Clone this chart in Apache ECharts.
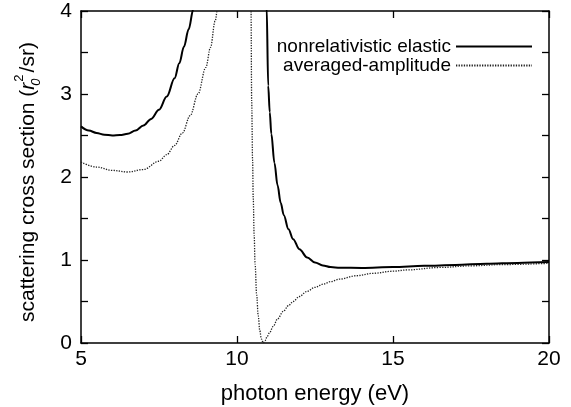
<!DOCTYPE html>
<html>
<head>
<meta charset="utf-8">
<script src="https://cdn.jsdelivr.net/npm/echarts@6/dist/echarts.min.js"></script>
<style>html,body{margin:0;padding:0;background:#fff;}#c{width:571px;height:407px;}</style>
</head>
<body>
<div id="c"></div>
<script>
// Data
var seriesNames = ['nonrelativistic elastic', 'averaged-amplitude'];
var xTicks = [5, 10, 15, 20];
var yTickLabels = [0, 1, 2, 3, 4];

// nonrelativistic elastic (solid); null splits the two branches around the resonance
var elasticX = [5.0, 5.25, 5.5, 5.75, 6.0, 6.25, 6.5, 6.75, 7.0, 7.25, 7.5, 7.75, 8.0, 8.15, 8.3, 8.45, 8.6, 8.75, 8.9, 9.1, null,
  10.9, 10.95, 11.0, 11.05, 11.1, 11.2, 11.3, 11.4, 11.5, 11.65, 11.8, 12.0, 12.25, 12.5, 12.75, 13.0, 13.3, 14.0, 15.0, 16.0, 17.0, 18.0, 19.0, 20.0];
var elasticY = [2.61, 2.56, 2.53, 2.51, 2.50, 2.505, 2.52, 2.56, 2.62, 2.70, 2.81, 2.97, 3.19, 3.37, 3.57, 3.78, 4.02, 4.3, 4.65, 5.3, null,
  6.0, 4.05, 3.1, 2.78, 2.52, 2.17, 1.90, 1.69, 1.54, 1.37, 1.25, 1.13, 1.03, 0.97, 0.935, 0.915, 0.907, 0.905, 0.915, 0.93, 0.94, 0.955, 0.965, 0.975];

// averaged-amplitude (dotted)
var averagedX = [5.0, 5.5, 6.0, 6.5, 7.0, 7.5, 7.75, 8.0, 8.25, 8.5, 8.75, 9.0, 9.15, 9.3, 9.4, 9.55, null,
  10.38, 10.45, 10.47, 10.5, 10.52, 10.55, 10.58, 10.63, 10.68, 10.73, 10.78, 10.84, 10.9, 10.97, 11.05, 11.16, 11.3, 11.48, 11.65, 11.8, 12.0, 12.23, 12.5, 12.77, 13.0, 13.3, 13.8, 14.37, 15.0, 15.44, 16.5, 17.5, 18.5, 20.0];
var averagedY = [2.18, 2.12, 2.08, 2.06, 2.09, 2.19, 2.27, 2.38, 2.53, 2.74, 3.0, 3.32, 3.56, 3.88, 4.1, 4.6, null,
  6.0, 4.0, 2.92, 2.2, 1.75, 1.3, 0.95, 0.58, 0.33, 0.15, 0.05, 0.0, 0.03, 0.08, 0.13, 0.20, 0.29, 0.38, 0.45, 0.50, 0.56, 0.62, 0.67, 0.71, 0.74, 0.77, 0.81, 0.84, 0.865, 0.88, 0.91, 0.93, 0.945, 0.96];

function pairs(xs, ys) {
  var out = [];
  for (var i = 0; i < xs.length; i++) {
    out.push(xs[i] === null ? [null, null] : [xs[i], ys[i]]);
  }
  return out;
}

var FONT = '"Liberation Sans", Arial, Helvetica, sans-serif';
var chart = echarts.init(document.getElementById('c'), null, {renderer: 'canvas'});

function tickStyle() { return {show: true, inside: true, length: 7, lineStyle: {color: '#000', width: 1.3}}; }
function axisLineStyle() { return {show: true, onZero: false, lineStyle: {color: '#000', width: 1.5}}; }

chart.setOption({
  animation: false,
  backgroundColor: '#fff',
  grid: {left: 81, right: 22, top: 11, bottom: 64, outerBoundsMode: 'none', containLabel: false},
  legend: {
    orient: 'vertical',
    align: 'right',
    right: 33,
    top: 32,
    padding: 5,
    itemWidth: 76,
    itemHeight: 14,
    itemGap: 0,
    itemStyle: {color: 'rgba(0,0,0,0)', borderWidth: 0, opacity: 0},
    textStyle: {fontFamily: FONT, fontSize: 19, lineHeight: 18, color: '#000'},
    data: seriesNames
  },
  xAxis: [{
    type: 'value', min: 5, max: 20, interval: 5, position: 'bottom',
    axisLine: axisLineStyle(), axisTick: tickStyle(), splitLine: {show: false},
    axisLabel: {fontFamily: FONT, fontSize: 21, color: '#000', margin: 6,
      formatter: function (v) { return xTicks.indexOf(v) >= 0 ? String(v) : ''; }},
    name: 'photon energy (eV)', nameLocation: 'middle', nameGap: 40,
    nameTextStyle: {fontFamily: FONT, fontSize: 22, color: '#000'}
  }, {
    type: 'value', min: 5, max: 20, interval: 5, position: 'top',
    axisLine: axisLineStyle(), axisTick: tickStyle(), splitLine: {show: false}, axisLabel: {show: false}
  }],
  yAxis: [{
    type: 'value', min: 0, max: 4, interval: 0.5, position: 'left',
    axisLine: axisLineStyle(), axisTick: tickStyle(), splitLine: {show: false},
    axisLabel: {fontFamily: FONT, fontSize: 21, color: '#000', margin: 9,
      formatter: function (v) { return yTickLabels.indexOf(v) >= 0 ? String(v) : ''; }},
    name: 'scattering cross section ({r|r}{s|0}{p|2}/sr)',
    nameLocation: 'middle', nameGap: 38, nameRotate: 90,
    nameTextStyle: {
      fontFamily: FONT, fontSize: 21, color: '#000', padding: [0, 10, 0, 0],
      rich: {
        r: {fontFamily: FONT, fontSize: 21, fontStyle: 'italic', color: '#000'},
        s: {fontFamily: FONT, fontSize: 13, fontStyle: 'italic', color: '#000', verticalAlign: 'bottom', lineHeight: 30, width: 1},
        p: {fontFamily: FONT, fontSize: 13, color: '#000', verticalAlign: 'top', lineHeight: 30, padding: [0, 2, 0, 0]}
      }
    }
  }, {
    type: 'value', min: 0, max: 4, interval: 0.5, position: 'right',
    axisLine: axisLineStyle(), axisTick: tickStyle(), splitLine: {show: false}, axisLabel: {show: false}
  }],
  series: [{
    name: seriesNames[0], type: 'line', data: pairs(elasticX, elasticY),
    showSymbol: false, symbol: 'none', smooth: 0.35, smoothMonotone: 'x', clip: true,
    connectNulls: false,
    lineStyle: {color: '#000', width: 2},
    itemStyle: {color: '#000'}
  }, {
    name: seriesNames[1], type: 'line', data: pairs(averagedX, averagedY),
    showSymbol: false, symbol: 'none', smooth: 0.35, smoothMonotone: 'x', clip: true,
    connectNulls: false,
    lineStyle: {color: '#222', width: 1.3, type: [1.3, 1.3]},
    itemStyle: {color: '#222'}
  }]
});
</script>
</body>
</html>
